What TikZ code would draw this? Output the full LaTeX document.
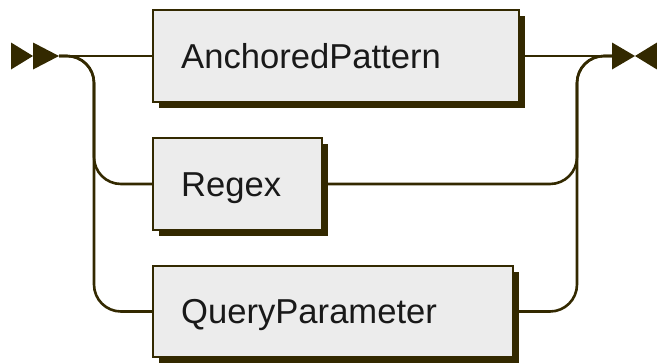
\documentclass[tikz,border=0pt]{standalone}
\usepackage{fontspec}
\setmainfont{Liberation Sans}
\usetikzlibrary{shadows}
\definecolor{rail}{RGB}{51,41,0}
\definecolor{boxfill}{RGB}{236,236,236}
\begin{document}
\begin{tikzpicture}[x=1pt,y=-1pt,
  rail/.style={draw=rail, line width=2.6pt},
  termbox/.style={draw=rail, fill=boxfill, line width=2.4pt, anchor=west,
    minimum height=91.5pt, inner xsep=28pt, inner ysep=0pt, align=left,
    text height=28pt, text depth=4pt, text=black!90,
    font=\fontsize{34.6}{40}\selectfont,
    general shadow={fill=rail, draw=none, shadow xshift=6pt, shadow yshift=-6pt}},
  tip/.style={fill=rail, draw=none}]
\useasboundingbox (0,0) rectangle (657,364);

% the three alternatives
\node[termbox, text width=309.5pt] (ap) at (152,56) {AnchoredPattern};
\node[termbox, text width=112.5pt] (re) at (152,184) {Regex};
\node[termbox, text width=303.5pt] (qp) at (152,311.5) {QueryParameter};

% entry and exit points, rail columns
\coordinate (start) at (59,56);
\coordinate (finish) at (612,56);
\coordinate (lrail) at (94,0);
\coordinate (rrail) at (577,0);

% start marker (double arrowhead)
\fill[tip] (11,42.5) -- (33,56) -- (11,69.5) -- cycle;
\fill[tip] (33,42.5) -- (start) -- (33,69.5) -- cycle;
% end marker (arrowheads meeting)
\fill[tip] (finish |- 0,42.5) -- (635,56) -- (finish |- 0,69.5) -- cycle;
\fill[tip] (657,42.5) -- (635,56) -- (657,69.5) -- cycle;

% rails
\draw[rail] (start) -- (ap.west);
\draw[rail, rounded corners=27pt] (start) -- (lrail |- start) -- (lrail |- re.west) -- (re.west);
\draw[rail, rounded corners=27pt] (start) -- (lrail |- start) -- (lrail |- qp.west) -- (qp.west);
\draw[rail] (ap.east) -- (finish);
\draw[rail, rounded corners=27pt] (re.east) -- (rrail |- re.east) -- (rrail |- finish) -- (finish);
\draw[rail, rounded corners=27pt] (qp.east) -- (rrail |- qp.east) -- (rrail |- finish) -- (finish);
\end{tikzpicture}
\end{document}
